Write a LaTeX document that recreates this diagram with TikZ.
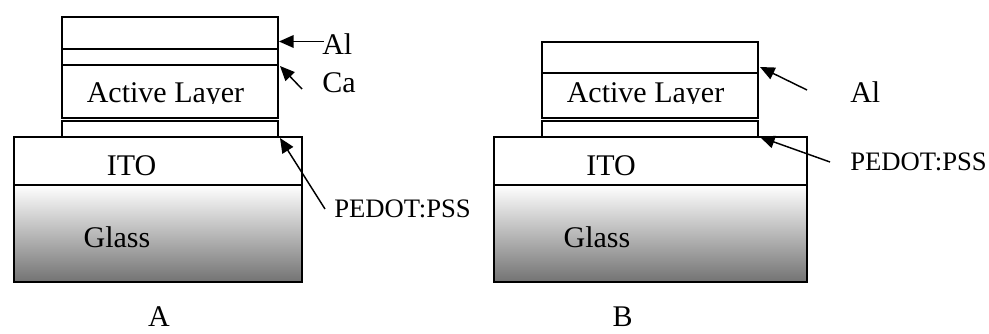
\documentclass[tikz,border=0pt]{standalone}
\usepackage{fontspec}
\setmainfont{Liberation Serif}
\usepackage{tikz}
\usetikzlibrary{arrows.meta}

\tikzset{
  layer/.style={draw, line width=1.5pt},
  ptr/.style={line width=1.1pt, -{Triangle[length=11pt,width=9.5pt]}},
  txt/.style={inner sep=0pt, font=\fontsize{22.5}{27}\selectfont},
  txtsmall/.style={inner sep=0pt, font=\fontsize{20}{24}\selectfont},
}

\begin{document}
\begin{tikzpicture}[x=0.75pt,y=0.75pt,yscale=-1,xscale=1]
\useasboundingbox (0,0) rectangle (989,334);

%%% Device A
%Shape: Glass [shaded]
\shade [top color=white, bottom color=black!55] (14,185) rectangle (302,282);
%Shape: Rectangle ITO + Glass
\draw [layer] (14,137) rectangle (302,282);
\draw [layer] (14,185) -- (302,185);
%Shape: Rectangle PEDOT
\draw [layer] (62,121) rectangle (278,137);
%Shape: Rectangle Active Layer
\draw [layer] (62,65) rectangle (278,118);
%Shape: Rectangle Ca
\draw [layer] (62,49) rectangle (278,65);
%Shape: Rectangle Al
\draw [layer] (62,17) rectangle (278,49);

% Text Node
\begin{scope}
\clip (62,66) rectangle (278,104);
\node [txt, anchor=base] (actA) at (165.5,103) {Active Layer};
\end{scope}
% Text Node
\node [txt, anchor=base] (itoA) at (131.5,176) {ITO};
% Text Node
\node [txt, anchor=base] (glassA) at (117,248) {Glass};
% Text Node
\node [txt, anchor=base] (nameA) at (159,327) {A};
% Text Node
\node [txt, anchor=base west] (alA) at (322,55) {Al};
% Text Node
\node [txt, anchor=base west] (caA) at (322,93) {Ca};
% Text Node
\node [txtsmall, anchor=base west] (pedotA) at (334,218) {PEDOT:PSS};

% arrows A
\coordinate (alAtail) at (324,41.5);
\coordinate (alAtip) at (279,41.5);
\coordinate (caAtail) at (302,89);
\coordinate (caAtip) at (280,66);
\coordinate (pedotAtail) at (325,209);
\coordinate (pedotAtip) at (280,138);
\draw [ptr] (alAtail) -- (alAtip);
\draw [ptr] (caAtail) -- (caAtip);
\draw [ptr] (pedotAtail) -- (pedotAtip);

%%% Device B
%Shape: Glass [shaded]
\shade [top color=white, bottom color=black!55] (494,185) rectangle (807,282);
%Shape: Rectangle ITO + Glass
\draw [layer] (494,137) rectangle (807,282);
\draw [layer] (494,185) -- (807,185);
%Shape: Rectangle PEDOT
\draw [layer] (542,121) rectangle (758,137);
%Shape: Rectangle Active Layer
\draw [layer] (542,73) rectangle (758,118);
%Shape: Rectangle Al
\draw [layer] (542,42) rectangle (758,73);

% Text Node
\begin{scope}
\clip (542,74) rectangle (758,104);
\node [txt, anchor=base] (actB) at (645.5,103) {Active Layer};
\end{scope}
% Text Node
\node [txt, anchor=base] (itoB) at (611,176) {ITO};
% Text Node
\node [txt, anchor=base] (glassB) at (597,248) {Glass};
% Text Node
\node [txt, anchor=base] (nameB) at (622.5,327) {B};
% Text Node
\node [txt, anchor=base west] (alB) at (850,103) {Al};
% Text Node
\node [txtsmall, anchor=base west] (pedotB) at (850,171) {PEDOT:PSS};

% arrows B
\coordinate (alBtail) at (807,90);
\coordinate (alBtip) at (760,67);
\coordinate (pedotBtail) at (830,162);
\coordinate (pedotBtip) at (760,137);
\draw [ptr] (alBtail) -- (alBtip);
\draw [ptr] (pedotBtail) -- (pedotBtip);

\end{tikzpicture}
\end{document}
